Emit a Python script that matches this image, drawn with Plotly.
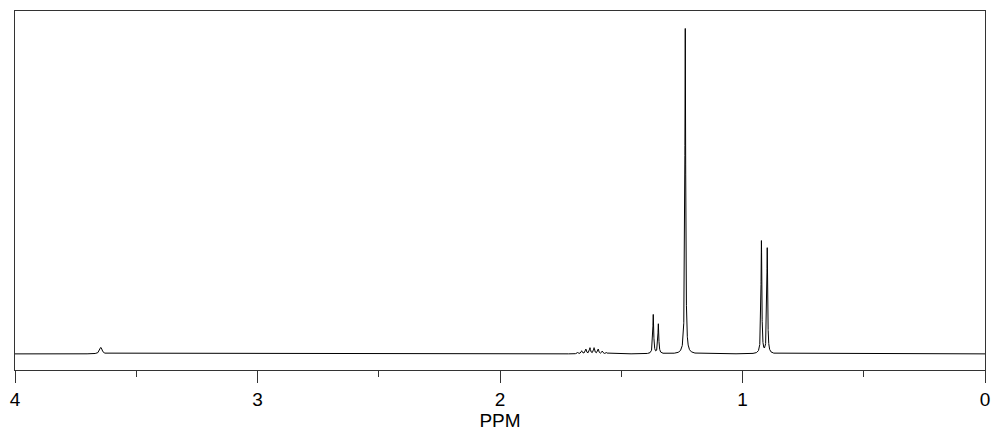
import numpy as np
import plotly.graph_objects as go

# Peak list (chemical shift in ppm, relative intensity, half width in ppm)
peak_ppm = [3.646,
            1.680, 1.663, 1.646, 1.629, 1.612, 1.595, 1.578, 1.561,
            1.368, 1.347, 1.236, 0.922, 0.898]
peak_height = [0.020,
               0.004, 0.009, 0.014, 0.018, 0.018, 0.014, 0.008, 0.004,
               0.120, 0.091, 1.000, 0.346, 0.324]
peak_hwhm = [0.006,
             0.0028, 0.0028, 0.0028, 0.0028, 0.0028, 0.0028, 0.0028, 0.0028,
             0.0022, 0.0022, 0.0020, 0.0020, 0.0020]

tick_vals = [4, 3, 2, 1, 0]
tick_text = ["4", "3", "2", "1", "0"]

ppm = np.round(np.arange(0, 4.00005, 0.0001), 4)
spec = np.zeros_like(ppm)
for c, h, w in zip(peak_ppm, peak_height, peak_hwhm):
    spec += h * w**2 / ((ppm - c) ** 2 + w**2)

fig = go.Figure(go.Scatter(x=ppm, y=spec, mode="lines",
                           line=dict(color="black", width=1), hoverinfo="skip"))

font = dict(family="Liberation Sans, Arial, sans-serif", size=19, color="black")
fig.update_layout(
    width=1000, height=435,
    margin=dict(l=13, r=11, t=10, b=62),
    plot_bgcolor="white", paper_bgcolor="white",
    showlegend=False, font=font,
)
fig.update_xaxes(
    range=[4, 0], showgrid=False, zeroline=False,
    showline=True, linecolor="#333", linewidth=1, mirror=True,
    ticks="outside", ticklen=12, tickcolor="#333", tickwidth=1,
    tickvals=tick_vals, ticktext=tick_text, tickfont=font,
    minor=dict(dtick=0.5, ticks="outside", ticklen=6, tickcolor="#333", tickwidth=1, showgrid=False),
    title=dict(text="PPM", font=font, standoff=2),
)
fig.update_yaxes(
    range=[-0.0495, 1.0538], showgrid=False, zeroline=False,
    showline=True, linecolor="#333", linewidth=1, mirror=True,
    showticklabels=False, ticks="",
)
fig.write_html(
    "out.html",
    config={"displayModeBar": False, "responsive": False},
    post_script="document.body.style.margin='0';document.body.style.overflow='hidden';",
)
